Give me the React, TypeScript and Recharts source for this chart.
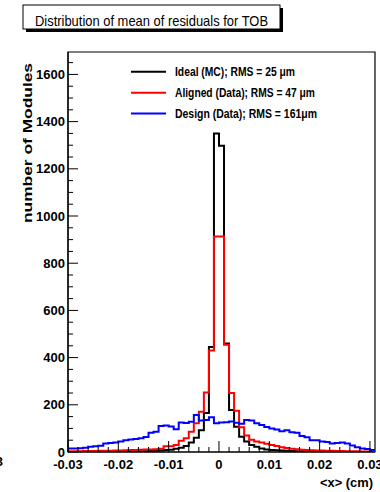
import React from 'react';
import { LineChart, Line, XAxis, YAxis, ReferenceArea } from 'recharts';

// histogram of <x>, 61 bins of 0.001 cm starting at -0.03
const BIN_START = -0.03;
const BIN_WIDTH = 0.001;

const IDEAL = [
  0, 0, 0, 0, 1, 1, 1, 1, 1, 1, 2, 2, 2, 3, 3, 3, 4, 5, 6, 8,
  10, 14, 18, 25, 40, 60, 92, 165, 445, 1350, 1298, 460, 178, 107, 65, 44, 30, 22, 15, 11,
  9, 7, 6, 5, 4, 3, 3, 2, 2, 2, 1, 1, 1, 1, 1, 0, 0, 0, 0, 0, 0,
];
const ALIGNED = [
  3, 3, 3, 4, 4, 4, 5, 5, 5, 6, 6, 7, 8, 9, 10, 11, 11, 12, 14, 24,
  24, 30, 48, 58, 86, 122, 171, 252, 430, 913, 913, 455, 250, 175, 105, 70, 52, 45, 40, 35,
  30, 25, 20, 17, 14, 12, 10, 8, 7, 6, 6, 5, 5, 4, 4, 3, 3, 3, 2, 2, 2,
];
const DESIGN = [
  15, 15, 16, 18, 22, 24, 26, 36, 38, 40, 44, 50, 53, 55, 58, 64, 82, 86, 110, 112,
  108, 96, 125, 123, 128, 157, 133, 136, 147, 122, 125, 126, 129, 124, 120, 136, 134, 122, 114, 106,
  100, 95, 88, 92, 84, 82, 68, 62, 50, 50, 45, 42, 36, 38, 40, 36, 28, 20, 15, 13, 9,
];

const SERIES_KEYS = ['ideal', 'aligned', 'design'];
const SERIES_NAMES = [
  'Ideal (MC); RMS = 25 \u03bcm',
  'Aligned (Data); RMS = 47 \u03bcm',
  'Design (Data); RMS = 161\u03bcm',
];
const SERIES_COLORS = ['#000000', '#ff0000', '#0000ff'];

const X_LABELS = ['-0.03', '-0.02', '-0.01', '0', '0.01', '0.02', '0.03'];
const Y_LABELS = [0, 200, 400, 600, 800, 1000, 1200, 1400, 1600];

const TITLE = 'Distribution of mean of residuals for TOB';
const X_TITLE = '<x> (cm)';
const Y_TITLE = 'number of Modules';

const X_MIN = -0.03;
const X_MAX = 0.031;
const Y_MAX = 1695;

const PLOT_LEFT = 68;
const PLOT_BOTTOM = 452;
const FONT = '"Liberation Sans", Arial, sans-serif';

const r6 = (v: number) => Math.round(v * 1e6) / 1e6;

const rows = IDEAL.map((_, i) => ({
  x: r6(BIN_START + i * BIN_WIDTH),
  ideal: IDEAL[i],
  aligned: ALIGNED[i],
  design: DESIGN[i],
}));
const last = IDEAL.length - 1;
rows.push({
  x: r6(BIN_START + IDEAL.length * BIN_WIDTH),
  ideal: IDEAL[last],
  aligned: ALIGNED[last],
  design: DESIGN[last],
});

// minor ticks every 0.002 on x, every 50 on y
const xTicks: number[] = [];
for (let i = -15; i <= 15; i++) xTicks.push(r6(i * 0.002));
const yTicks: number[] = [];
for (let v = 0; v <= 1650; v += 50) yTicks.push(v);

const XTick = (props: any) => {
  const { x, payload } = props;
  const v = payload.value;
  const idx = X_LABELS.findIndex((l) => Math.abs(parseFloat(l) - v) < 1e-7);
  const major = idx >= 0;
  return (
    <g>
      <line x1={x} x2={x} y1={PLOT_BOTTOM} y2={PLOT_BOTTOM - (major ? 11 : 5)} stroke="#000" strokeWidth={1} />
      {major && (
        <text x={x} y={469} textAnchor="middle" fontFamily={FONT} fontWeight="bold" fontSize={13} fill="#000">
          {X_LABELS[idx]}
        </text>
      )}
    </g>
  );
};

const YTick = (props: any) => {
  const { y, payload } = props;
  const v = payload.value;
  const major = Y_LABELS.includes(v);
  return (
    <g>
      <line x1={PLOT_LEFT} x2={PLOT_LEFT + (major ? 10 : 5)} y1={y} y2={y} stroke="#000" strokeWidth={1} />
      {major && (
        <text x={PLOT_LEFT - 3} y={y} dy="0.36em" textAnchor="end" fontFamily={FONT} fontWeight="bold" fontSize={13} fill="#000">
          {v}
        </text>
      )}
    </g>
  );
};

const legendRows = [76, 97, 117.7];
const legendWidths = [120, 140, 142];

export default function App() {
  return (
    <div style={{ position: 'absolute', left: 0, top: 0, width: 380, height: 492, background: '#fff' }}>
      <LineChart width={380} height={492} data={rows} margin={{ top: 52, right: 5, left: 8, bottom: 0 }}>
        <XAxis
          dataKey="x"
          type="number"
          domain={[X_MIN, X_MAX]}
          ticks={xTicks}
          interval={0}
          tick={(p: any) => <XTick {...p} />}
          tickLine={false}
          height={40}
          axisLine={{ stroke: '#000', strokeWidth: 1.2 }}
          allowDataOverflow
        />
        <YAxis
          type="number"
          domain={[0, Y_MAX]}
          ticks={yTicks}
          interval={0}
          tick={(p: any) => <YTick {...p} />}
          tickLine={false}
          width={60}
          axisLine={{ stroke: '#000', strokeWidth: 1.2 }}
          allowDataOverflow
        />
        <ReferenceArea x1={X_MIN} x2={X_MAX} y1={0} y2={Y_MAX} fill="none" fillOpacity={0} stroke="#000" strokeWidth={1.2} />
        {SERIES_KEYS.map((k, i) => (
          <Line
            key={k}
            type="stepAfter"
            dataKey={k}
            name={SERIES_NAMES[i]}
            stroke={SERIES_COLORS[i]}
            strokeWidth={2}
            dot={false}
            isAnimationActive={false}
          />
        ))}
      </LineChart>
      <svg width={380} height={492} style={{ position: 'absolute', left: 0, top: 0, pointerEvents: 'none' }}>
        <rect x={26} y={8} width={257} height={24} fill="#000" />
        <rect x={23} y={5} width={257} height={24} fill="#fff" stroke="#000" strokeWidth={1} />
        <text x={35} y={26} fontFamily={FONT} fontSize={15} textLength={233} lengthAdjust="spacingAndGlyphs" fill="#000">
          {TITLE}
        </text>
        {SERIES_NAMES.map((n, i) => (
          <g key={n}>
            <line x1={131} x2={166} y1={legendRows[i] - 4.3} y2={legendRows[i] - 4.3} stroke={SERIES_COLORS[i]} strokeWidth={2} />
            <text x={175} y={legendRows[i]} fontFamily={FONT} fontWeight="bold" fontSize={12} textLength={legendWidths[i]} lengthAdjust="spacingAndGlyphs" fill="#000">
              {n}
            </text>
          </g>
        ))}
        <text
          x={32}
          y={143}
          transform="rotate(-90 32 143)"
          textAnchor="middle"
          fontFamily={FONT}
          fontWeight="bold"
          fontSize={13.5}
          textLength={160}
          lengthAdjust="spacingAndGlyphs"
          fill="#000"
        >
          {Y_TITLE}
        </text>
        <text x={373} y={487} textAnchor="end" fontFamily={FONT} fontWeight="bold" fontSize={13} textLength={53} lengthAdjust="spacingAndGlyphs" fill="#000">
          {X_TITLE}
        </text>
        <text x={3} y={466} textAnchor="end" fontFamily={FONT} fontWeight="bold" fontSize={13} fill="#000">
          3
        </text>
      </svg>
    </div>
  );
}
